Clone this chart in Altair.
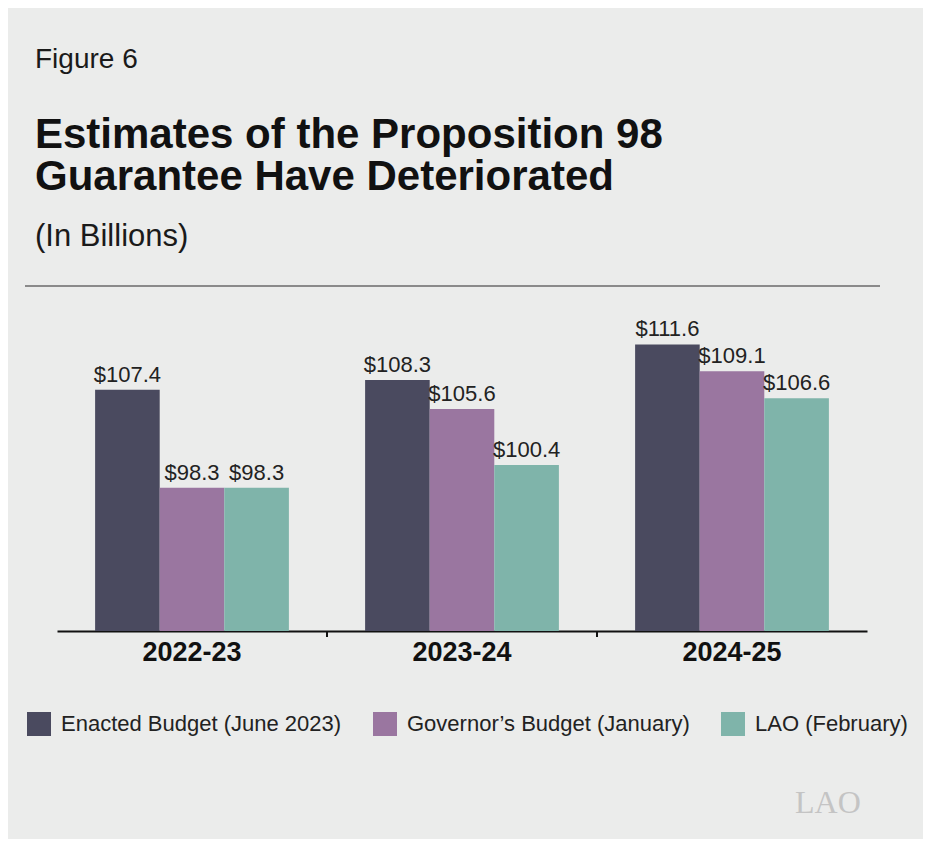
import altair as alt
import pandas as pd

# ---- data ----
YEARS = ["2022-23", "2023-24", "2024-25"]
SERIES = ["Enacted Budget (June 2023)", "Governor\u2019s Budget (January)", "LAO (February)"]
ENACTED = [107.4, 108.3, 111.6]
GOVERNOR = [98.3, 105.6, 109.1]
LAO = [98.3, 100.4, 106.6]
COLORS = ["#4a4a5f", "#9a76a0", "#7fb4aa"]

FIG_LABEL = "Figure 6"
TITLE_LINES = ["Estimates of the Proposition 98", "Guarantee Have Deteriorated"]
SUBTITLE = "(In Billions)"
LOGO = "LAO"

FONT = "Liberation Sans"
BG = "#ebeceb"

rows = []
for s, vals in zip(SERIES, [ENACTED, GOVERNOR, LAO]):
    for yr, v in zip(YEARS, vals):
        rows.append({"year": yr, "series": s, "value": v, "label": f"${v:.1f}"})
df = pd.DataFrame(rows)

W, H = 810, 334

x_axis = alt.Axis(title=None, ticks=False, labelAngle=0, labelFontSize=27,
                  labelFontWeight="bold", labelColor="#111", labelFont=FONT,
                  labelPadding=8, domainColor="#111", domainWidth=2)
x_scale = alt.Scale(domain=YEARS, paddingInner=0, paddingOuter=0)
x_enc = alt.X("year:N", sort=YEARS, scale=x_scale, axis=x_axis)
xo_enc = alt.XOffset("series:N", sort=SERIES,
                     scale=alt.Scale(domain=SERIES, paddingInner=0, paddingOuter=0.59))
y_enc = alt.Y("value:Q", scale=alt.Scale(domain=[85, 116], zero=False, nice=False), axis=None)
color_enc = alt.Color(
    "series:N", sort=SERIES,
    scale=alt.Scale(domain=SERIES, range=COLORS),
    legend=alt.Legend(orient="none", legendX=-30, legendY=415, direction="horizontal",
                      title=None, symbolType="square", symbolSize=576, symbolStrokeWidth=0,
                      symbolOpacity=1, labelFontSize=22, labelFont=FONT, labelColor="#222",
                      labelLimit=0, columnPadding=31, labelOffset=10, padding=0),
)

base = alt.Chart(df)
bars = base.mark_bar(clip=True).encode(x=x_enc, xOffset=xo_enc, y=y_enc, color=color_enc)
labels = base.mark_text(dy=-8, baseline="alphabetic", fontSize=22, font=FONT, color="#222").encode(
    x=x_enc, xOffset=xo_enc, y=y_enc, text="label:N")

tick_df = pd.DataFrame({"year": YEARS[1:]})
ticks = alt.Chart(tick_df).mark_rule(color="#111", strokeWidth=2).encode(
    x=alt.X("year:N", sort=YEARS, scale=x_scale, axis=x_axis, bandPosition=0),
    y=alt.value(H), y2=alt.value(H + 6))

def txt(s, x, y, size, weight="normal", color="#1a1a1a", font=FONT, **kw):
    return alt.Chart(pd.DataFrame({"t": [s]})).mark_text(
        align="left", baseline="alphabetic", fontSize=size, fontWeight=weight,
        font=font, color=color, **kw).encode(text="t:N", x=alt.value(x), y=alt.value(y))

fig = txt(FIG_LABEL, -22, -229, 28)
title = txt("\n".join(TITLE_LINES), -22, -149, 42, "bold", "#111", lineBreak="\n", lineHeight=42)
sub = txt(SUBTITLE, -22, -51, 31)
logo = txt(LOGO, 738, 516, 32, "normal", "#c4c4c4", "Liberation Serif")

sep = alt.Chart(pd.DataFrame({"a": [0]})).mark_rule(color="#8a8a8a", strokeWidth=2).encode(
    x=alt.value(-32), x2=alt.value(823), y=alt.value(-11))

chart = alt.layer(bars, labels, ticks, fig, title, sub, sep, logo).properties(
    width=W, height=H, background=BG, autosize="none",
    padding={"left": 49, "top": 289, "right": 56, "bottom": 208},
).configure_view(stroke=None)

chart.save("out.html", embed_options={"renderer": "svg", "actions": False})
